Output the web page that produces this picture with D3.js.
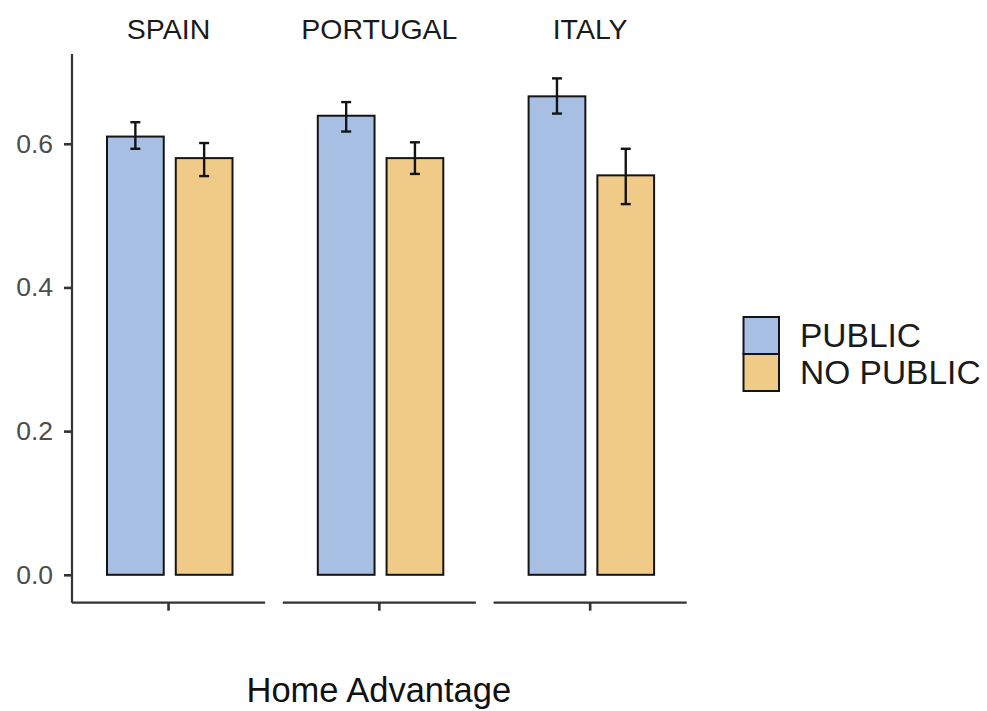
<!DOCTYPE html>
<html>
<head>
<meta charset="utf-8">
<script src="https://cdn.jsdelivr.net/npm/d3@7"></script>
<style>
  html, body { margin: 0; padding: 0; background: #fff; }
  svg { display: block; font-family: "Liberation Sans", Arial, sans-serif; }
</style>
</head>
<body>
<svg id="chart" width="987" height="711"></svg>
<script>
// Countries (facets) and conditions
const countries = ["SPAIN", "PORTUGAL", "ITALY"];
const groups = ["PUBLIC", "NO PUBLIC"];

// Mean home advantage per country, one array per condition
const publicMean   = [0.610, 0.639, 0.666];
const noPublicMean = [0.580, 0.580, 0.556];

// Error bar limits
const publicLow    = [0.593, 0.617, 0.642];
const publicHigh   = [0.630, 0.658, 0.691];
const noPublicLow  = [0.555, 0.558, 0.516];
const noPublicHigh = [0.601, 0.602, 0.593];

const yTicks = [0.0, 0.2, 0.4, 0.6];
const xTitle = "Home Advantage";

const fills = { "PUBLIC": "#a7bfe3", "NO PUBLIC": "#f0cb88" };

const rows = [];
countries.forEach((c, i) => {
  rows.push({ country: c, group: "PUBLIC", value: publicMean[i], lo: publicLow[i], hi: publicHigh[i] });
  rows.push({ country: c, group: "NO PUBLIC", value: noPublicMean[i], lo: noPublicLow[i], hi: noPublicHigh[i] });
});

const svg = d3.select("#chart");

// Panel area
const plotLeft = 72, plotRight = 686.7, plotTop = 54, plotBottom = 602.7;

// y scale with a small expansion around [0, max error]
const yMaxData = d3.max(rows, d => d.hi);
const span = yMaxData - 0;
const y = d3.scaleLinear()
  .domain([0 - span * 0.0562, yMaxData + span * 0.0491])
  .range([plotBottom, plotTop]);

// Facet panels
const panel = d3.scaleBand().domain(countries).range([plotLeft, plotRight]).paddingInner(0.084);
// Bars within a panel
const inner = d3.scaleBand().domain(groups).range([35, 160.5]).paddingInner(0.175);

const ink = "#141414";

countries.forEach(c => {
  const g = svg.append("g").attr("transform", `translate(${panel(c)},0)`);
  const pw = panel.bandwidth();

  // strip label
  g.append("text")
    .attr("x", pw / 2).attr("y", 38.5)
    .attr("text-anchor", "middle")
    .attr("font-size", 28.5).attr("fill", "#1a1a1a")
    .text(c);

  // bottom axis line and center tick
  g.append("line")
    .attr("x1", 0).attr("x2", pw)
    .attr("y1", plotBottom).attr("y2", plotBottom)
    .attr("stroke", "#333").attr("stroke-width", 2.2);
  g.append("line")
    .attr("x1", pw / 2).attr("x2", pw / 2)
    .attr("y1", plotBottom).attr("y2", plotBottom + 8)
    .attr("stroke", "#333").attr("stroke-width", 2.6);

  const data = rows.filter(r => r.country === c);

  g.selectAll("rect.bar").data(data).enter().append("rect")
    .attr("class", "bar")
    .attr("x", d => inner(d.group))
    .attr("width", inner.bandwidth())
    .attr("y", d => y(d.value))
    .attr("height", d => y(0) - y(d.value))
    .attr("fill", d => fills[d.group])
    .attr("stroke", ink).attr("stroke-width", 2);

  const eb = g.selectAll("g.err").data(data).enter().append("g").attr("class", "err")
    .attr("transform", d => `translate(${inner(d.group) + inner.bandwidth() / 2},0)`);
  eb.append("line").attr("y1", d => y(d.lo)).attr("y2", d => y(d.hi))
    .attr("stroke", ink).attr("stroke-width", 2.4);
  eb.append("line").attr("x1", -5).attr("x2", 5).attr("y1", d => y(d.hi)).attr("y2", d => y(d.hi))
    .attr("stroke", ink).attr("stroke-width", 2.4);
  eb.append("line").attr("x1", -5).attr("x2", 5).attr("y1", d => y(d.lo)).attr("y2", d => y(d.lo))
    .attr("stroke", ink).attr("stroke-width", 2.4);
});

// y axis
const yAxis = svg.append("g").attr("transform", `translate(${plotLeft},0)`)
  .call(d3.axisLeft(y).tickValues(yTicks).tickFormat(d3.format(".1f")).tickSize(8).tickPadding(11));
yAxis.select(".domain").remove();
yAxis.append("line").attr("x1", 0).attr("x2", 0).attr("y1", plotTop).attr("y2", plotBottom)
  .attr("stroke", "#333").attr("stroke-width", 2.2);
yAxis.selectAll(".tick line").attr("stroke", "#333").attr("stroke-width", 2.6);
yAxis.selectAll(".tick text")
  .attr("font-size", 26.5).attr("fill", "#4d4d4d")
  .attr("font-family", "'Liberation Sans', Arial, sans-serif");

// x title
svg.append("text")
  .attr("x", (plotLeft + plotRight) / 2 - 0.5).attr("y", 702)
  .attr("text-anchor", "middle").attr("font-size", 34.5).attr("fill", "#111")
  .text(xTitle);

// legend
const lg = svg.append("g").attr("transform", "translate(743.5,317)");
groups.forEach((k, i) => {
  lg.append("rect")
    .attr("x", 0).attr("y", i * 37)
    .attr("width", 35.5).attr("height", 37)
    .attr("fill", fills[k]).attr("stroke", ink).attr("stroke-width", 2);
  lg.append("text")
    .attr("x", 56.5).attr("y", i * 37 + 29.5)
    .attr("font-size", 33.5).attr("fill", "#1a1a1a")
    .text(k);
});
</script>
</body>
</html>
